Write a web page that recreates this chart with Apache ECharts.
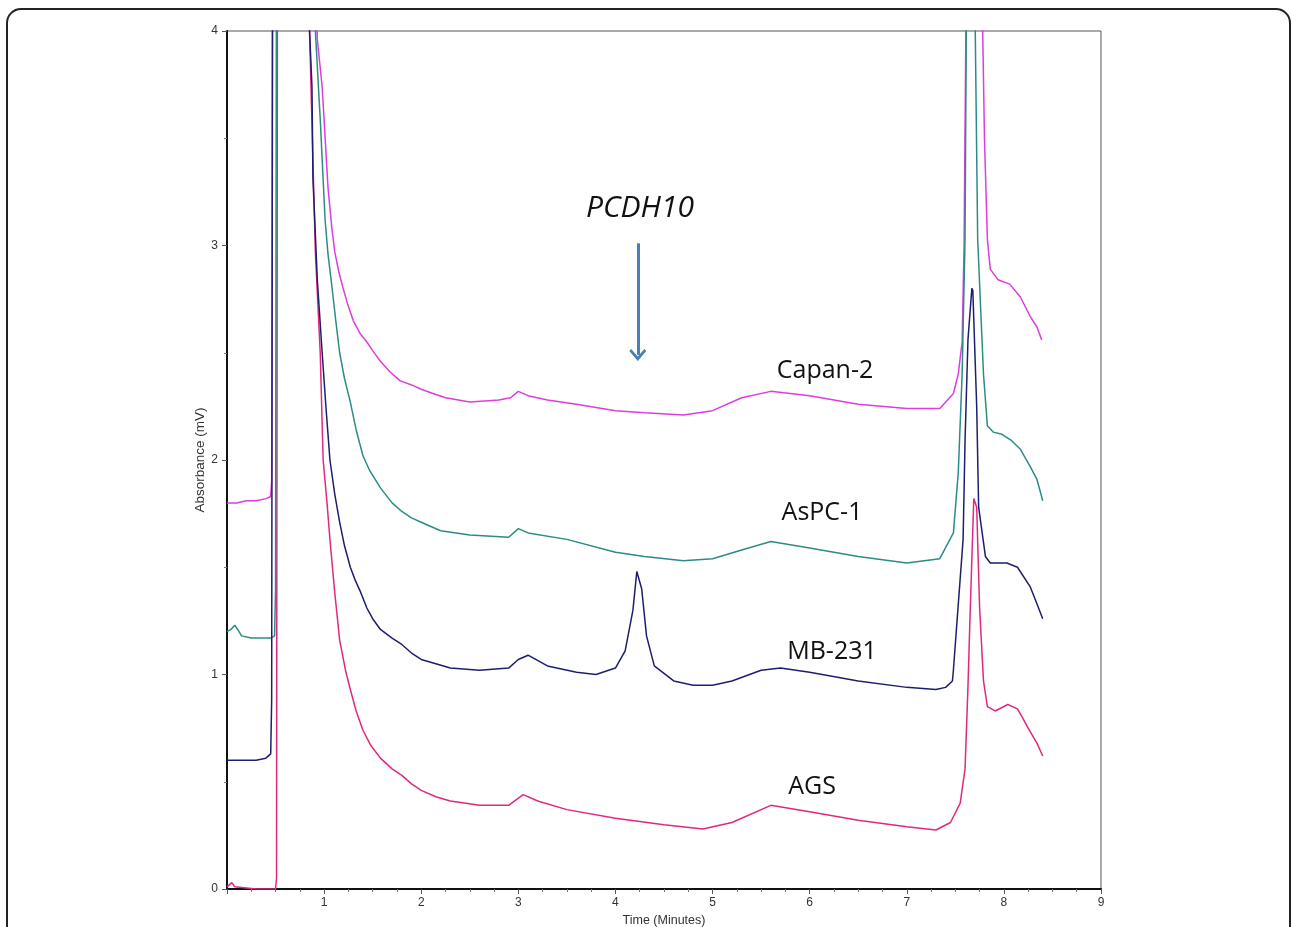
<!DOCTYPE html>
<html>
<head>
<meta charset="utf-8">
<script src="https://cdn.jsdelivr.net/npm/echarts@6/dist/echarts.min.js"></script>
<style>
  html, body { margin: 0; padding: 0; background: #fff; }
  #chart { width: 1292px; height: 927px; }
</style>
</head>
<body>
<div id="chart"></div>
<script>
// chromatogram traces, [time (min), absorbance (mV)]
const capan2 = [
  [0.00, 1.80], [0.10, 1.80], [0.20, 1.81], [0.30, 1.81], [0.40, 1.82], [0.45, 1.83],
  [0.46, 1.90], [0.47, 4.60], [0.90, 4.60], [0.93, 3.96], [0.98, 3.74], [1.04, 3.27],
  [1.08, 3.08], [1.11, 2.97], [1.15, 2.88], [1.19, 2.81], [1.24, 2.73], [1.30, 2.65],
  [1.37, 2.59], [1.44, 2.55], [1.50, 2.51], [1.58, 2.46], [1.68, 2.41], [1.78, 2.37],
  [1.90, 2.35], [2.00, 2.33], [2.12, 2.31], [2.25, 2.29], [2.50, 2.27], [2.80, 2.28],
  [2.92, 2.29], [3.00, 2.32], [3.10, 2.30], [3.30, 2.28], [3.60, 2.26], [4.00, 2.23],
  [4.30, 2.22], [4.70, 2.21], [5.00, 2.23], [5.30, 2.29], [5.60, 2.32], [6.00, 2.30],
  [6.50, 2.26], [7.00, 2.24], [7.34, 2.24], [7.48, 2.31], [7.53, 2.40], [7.57, 2.55],
  [7.59, 3.00], [7.62, 4.60], [7.76, 4.60], [7.80, 3.50], [7.83, 3.03], [7.86, 2.89],
  [7.94, 2.84], [8.06, 2.82], [8.17, 2.76], [8.27, 2.67], [8.34, 2.62], [8.39, 2.56]
];
const aspc1 = [
  [0.00, 1.20], [0.04, 1.21], [0.08, 1.23], [0.11, 1.21], [0.15, 1.18], [0.25, 1.17],
  [0.35, 1.17], [0.45, 1.17], [0.49, 1.18], [0.50, 1.40], [0.51, 4.60], [0.90, 4.60],
  [0.91, 4.00], [0.96, 3.59], [1.01, 3.12], [1.04, 2.96], [1.08, 2.81], [1.12, 2.65],
  [1.16, 2.50], [1.21, 2.38], [1.27, 2.27], [1.33, 2.14], [1.40, 2.02], [1.47, 1.95],
  [1.58, 1.87], [1.70, 1.80], [1.80, 1.76], [1.90, 1.73], [2.00, 1.71], [2.20, 1.67],
  [2.50, 1.65], [2.90, 1.64], [3.00, 1.68], [3.10, 1.66], [3.50, 1.63], [4.00, 1.57],
  [4.30, 1.55], [4.70, 1.53], [5.00, 1.54], [5.30, 1.58], [5.60, 1.62], [6.00, 1.59],
  [6.50, 1.55], [7.00, 1.52], [7.34, 1.54], [7.48, 1.66], [7.53, 1.94], [7.57, 2.40],
  [7.60, 3.03], [7.62, 4.60], [7.69, 4.60], [7.73, 3.03], [7.79, 2.40], [7.83, 2.16],
  [7.89, 2.13], [7.98, 2.12], [8.08, 2.09], [8.17, 2.05], [8.27, 1.97], [8.34, 1.91],
  [8.40, 1.81]
];
const mb231 = [
  [0.00, 0.60], [0.10, 0.60], [0.20, 0.60], [0.30, 0.60], [0.40, 0.61], [0.45, 0.63],
  [0.46, 0.88], [0.47, 4.60], [0.84, 4.60], [0.85, 4.00], [0.875, 3.74], [0.885, 3.31],
  [0.93, 2.84], [0.98, 2.50], [1.02, 2.24], [1.06, 2.00], [1.11, 1.84], [1.16, 1.71],
  [1.21, 1.60], [1.27, 1.50], [1.32, 1.44], [1.37, 1.39], [1.44, 1.31], [1.50, 1.26],
  [1.58, 1.21], [1.70, 1.17], [1.80, 1.14], [1.90, 1.10], [2.00, 1.07], [2.15, 1.05],
  [2.30, 1.03], [2.60, 1.02], [2.90, 1.03], [3.00, 1.07], [3.10, 1.09], [3.30, 1.04],
  [3.60, 1.01], [3.80, 1.00], [4.00, 1.03], [4.10, 1.11], [4.18, 1.30], [4.22, 1.48],
  [4.27, 1.40], [4.32, 1.18], [4.40, 1.04], [4.60, 0.97], [4.80, 0.95], [5.00, 0.95],
  [5.20, 0.97], [5.50, 1.02], [5.70, 1.03], [6.00, 1.01], [6.50, 0.97], [7.00, 0.94],
  [7.30, 0.93], [7.40, 0.94], [7.47, 0.97], [7.48, 1.02], [7.58, 1.63], [7.60, 2.09],
  [7.63, 2.56], [7.67, 2.80], [7.68, 2.79], [7.72, 2.25], [7.74, 1.78], [7.81, 1.55],
  [7.86, 1.52], [8.03, 1.52], [8.14, 1.50], [8.27, 1.41], [8.34, 1.33], [8.40, 1.26]
];
const ags = [
  [0.00, 0.01], [0.05, 0.03], [0.08, 0.01], [0.30, 0.00], [0.50, 0.00], [0.51, 0.05],
  [0.52, 4.60], [0.84, 4.60], [0.85, 4.00], [0.91, 2.97], [0.96, 2.50], [0.99, 2.00],
  [1.03, 1.80], [1.06, 1.63], [1.11, 1.38], [1.16, 1.16], [1.22, 1.02], [1.27, 0.93],
  [1.33, 0.83], [1.40, 0.74], [1.48, 0.67], [1.58, 0.61], [1.70, 0.56], [1.80, 0.53],
  [1.90, 0.49], [2.00, 0.46], [2.15, 0.43], [2.30, 0.41], [2.60, 0.39], [2.90, 0.39],
  [3.05, 0.44], [3.20, 0.41], [3.50, 0.37], [4.00, 0.33], [4.50, 0.30], [4.90, 0.28],
  [5.20, 0.31], [5.60, 0.39], [6.00, 0.36], [6.50, 0.32], [7.00, 0.29], [7.30, 0.275],
  [7.45, 0.31], [7.55, 0.40], [7.60, 0.56], [7.63, 0.94], [7.65, 1.25], [7.69, 1.82],
  [7.72, 1.78], [7.75, 1.31], [7.79, 0.97], [7.83, 0.85], [7.91, 0.83], [8.04, 0.86],
  [8.14, 0.84], [8.19, 0.80], [8.25, 0.75], [8.34, 0.68], [8.40, 0.62]
];

const traceNames = ['Capan-2', 'AsPC-1', 'MB-231', 'AGS'];
const traceColors = ['#dd3ddd', '#2b8c86', '#1e1e6e', '#e0287f'];
const arrowFrom = [4.23, 3.01];
const arrowTo = [4.23, 2.49];

const chart = echarts.init(document.getElementById('chart'));

function line(name, data, color) {
  return {
    name: name,
    type: 'line',
    data: data,
    symbol: 'none',
    lineStyle: { color: color, width: 1.5 },
    z: 3
  };
}

const series = [
  line(traceNames[3], ags, traceColors[3]),
  line(traceNames[0], capan2, traceColors[0]),
  line(traceNames[1], aspc1, traceColors[1]),
  line(traceNames[2], mb231, traceColors[2])
];
series[0].markLine = {
  silent: true,
  // open chevron head like the drawn arrow
  symbol: ['none', 'path://M0,-2 L-9,7 L-7,9 L0,2 L7,9 L9,7 Z'],
  symbolSize: [17, 12],
  label: { show: false },
  lineStyle: { color: '#4a7ebb', width: 3, type: 'solid' },
  data: [[{ coord: arrowFrom }, { coord: arrowTo }]]
};

const labelFont = '"Open Sans", sans-serif';

function note(text, x, y, size, italic) {
  return {
    type: 'text', x: x, y: y, z: 10,
    style: {
      text: text, fontFamily: labelFont, fontSize: size,
      fontStyle: italic ? 'italic' : 'normal',
      fill: '#111', align: 'center', verticalAlign: 'middle'
    }
  };
}

chart.setOption({
  animation: false,
  backgroundColor: '#fff',
  grid: {
    left: 227, top: 31, right: 191, bottom: 38,
    containLabel: false, outerBoundsMode: 'none',
    show: true, borderColor: '#555', borderWidth: 1
  },
  xAxis: {
    type: 'value', min: 0, max: 9, interval: 1,
    name: 'Time (Minutes)', nameLocation: 'middle', nameGap: 24,
    nameTextStyle: { fontFamily: 'Liberation Sans', fontSize: 12.5, color: '#333' },
    axisLine: { lineStyle: { color: '#111', width: 2 } },
    axisTick: { show: true, length: 5, lineStyle: { color: '#555' } },
    minorTick: { show: true, splitNumber: 4, length: 3, lineStyle: { color: '#777' } },
    splitLine: { show: false },
    axisLabel: {
      fontFamily: 'Liberation Sans', fontSize: 12, color: '#333', margin: 8,
      formatter: v => (v === 0 ? '' : String(v))
    }
  },
  yAxis: {
    type: 'value', min: 0, max: 4, interval: 1,
    name: 'Absorbance (mV)', nameLocation: 'middle', nameGap: 20, nameRotate: 90,
    nameMoveOverlap: false,
    nameTextStyle: { fontFamily: 'Liberation Sans', fontSize: 13.5, color: '#333' },
    axisLine: { show: true, lineStyle: { color: '#111', width: 2 } },
    axisTick: { show: true, length: 5, lineStyle: { color: '#555' } },
    minorTick: { show: true, splitNumber: 2, length: 3, lineStyle: { color: '#777' } },
    splitLine: { show: false },
    axisLabel: { fontFamily: 'Liberation Sans', fontSize: 12, color: '#333', margin: 9 }
  },
  graphic: [
    {
      type: 'rect', silent: true, z: -10,
      shape: { x: 7, y: 9, width: 1283, height: 1000, r: 14 },
      style: { fill: 'none', stroke: '#222', lineWidth: 2 }
    },
    note('PCDH10', 640, 208, 30, true),
    note(traceNames[0], 825, 371, 25),
    note(traceNames[1], 822, 513, 25),
    note(traceNames[2], 832, 652, 25),
    note(traceNames[3], 812, 787, 25)
  ],
  series: series
});
</script>
</body>
</html>
